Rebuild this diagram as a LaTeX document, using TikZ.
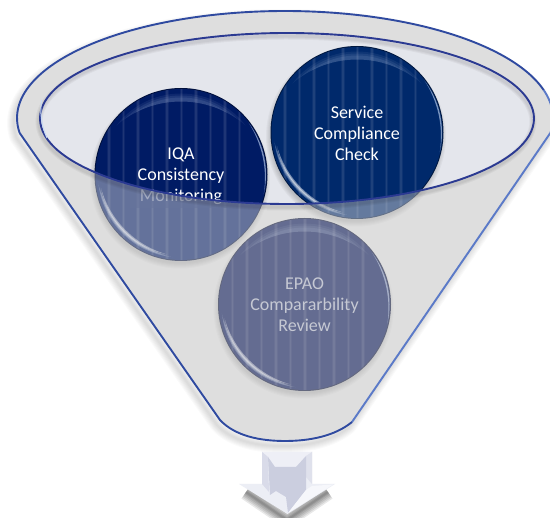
\documentclass[tikz,border=0pt]{standalone}
\usepackage{fontspec}
\setmainfont{Carlito}
\definecolor{bodygrey}{HTML}{DEDEDE}
\definecolor{innerfill}{HTML}{E4E6EC}
\definecolor{linein}{HTML}{2B3A92}
\definecolor{lineleft}{HTML}{2F4AA0}
\definecolor{lineright}{HTML}{5B7AC8}
\definecolor{navya}{HTML}{001B64}
\definecolor{navyb}{HTML}{00296B}
\definecolor{navyc}{HTML}{000F52}
\definecolor{glow}{HTML}{C8DAF5}
\definecolor{washed}{HTML}{66749C}
\definecolor{arface}{HTML}{CBCEDF}
\definecolor{artop}{HTML}{EEEFF6}
\definecolor{arleft}{HTML}{D9DBE9}
\definecolor{arright}{HTML}{DFE1EC}
\definecolor{arheadl}{HTML}{ECEEF5}
\definecolor{arheadr}{HTML}{F6F7FB}
\newcommand{\funnelpath}{plot[domain=188:-8,samples=90,smooth] ({285+268*cos(\x)},{118-107*sin(\x)}) -- (352,422) .. controls (335,436) and (310,441) .. (285,441) .. controls (260,441) and (235,436) .. (220,420) -- cycle}
\newcommand{\innerpath}{(287,118.5) ellipse [x radius=247pt,y radius=85.5pt]}
% crescent: cx cy r dx dy r2 colour opacity  (r2>r gives a tapered sliver)
\newcommand{\crescent}[8]{%
  \begin{scope}
    \clip (#1,#2) circle [radius=#3 pt];
    \fill[#7,opacity=#8,even odd rule] ({#1-130},{#2-130}) rectangle ({#1+130},{#2+130})
      ({#1+#4},{#2+#5}) circle [radius=#6 pt];
  \end{scope}}
\newcommand{\circshadow}[2]{%
  \foreach \k in {1,...,6}{\fill[black,opacity=.03] ({#1-1},{#2+4}) circle [radius={84+\k*1.0 pt}];}}
\newcommand{\gloss}[2]{%
  \begin{scope}
    \clip (#1,#2) circle [radius=85.5pt];
    \foreach \s in {-72,-57.5,...,72}{%
      \draw[white,opacity=.05,line width=3.4pt] ({#1+\s},{#2-90}) -- ({#1+\s},{#2+90});
      \draw[white,opacity=.07,line width=1.5pt] ({#1+\s},{#2-90}) -- ({#1+\s},{#2+90});}
  \end{scope}
  % top band
  \crescent{#1}{#2}{81}{0}{26}{99}{glow}{.07}
  \crescent{#1}{#2}{79}{0}{26}{99}{glow}{.09}
  \crescent{#1}{#2}{77}{0}{26}{99}{glow}{.10}
  % lower left
  \crescent{#1}{#2}{83}{12}{-12}{97}{glow}{.35}
  \crescent{#1}{#2}{82}{12}{-12}{96.5}{white}{.35}
  \crescent{#1}{#2}{81}{12}{-12}{95.5}{white}{.45}
  % right rim
  \crescent{#1}{#2}{85}{-19}{4}{103}{glow}{.6}
}
\tikzset{
  disc/.style={circle,minimum size=172pt,inner sep=0pt,align=center,font=\fontsize{18}{21}\selectfont,text=white},
}
\begin{document}
\begin{tikzpicture}[x=1pt,y=-1pt]
\useasboundingbox (0,0) rectangle (550,518);
\clip (0,0) rectangle (550,518);
\fill[white] (0,0) rectangle (550,518);
% funnel shadow
\begin{scope}[shift={(-3,5)}]
  \foreach \w in {14,12,10,8,6,4,2}{\draw[black,opacity=.018,line width=\w pt,line join=round] \funnelpath;}
\end{scope}
% funnel body and inner ellipse
\fill[bodygrey] \funnelpath;
\fill[innerfill] \innerpath;
% circles
\circshadow{181}{174.5}
\circshadow{357}{132.5}
\circshadow{304.5}{304.5}
\fill[black!40!navya] (181,174.5) circle [radius=86.5pt];
\fill[black!40!navyb] (357,132.5) circle [radius=86.5pt];
\fill[black!40!navyc] (304.5,304.5) circle [radius=86.5pt];
\fill[navya] (181,174.5) circle [radius=85.5pt];
\fill[navyb] (357,132.5) circle [radius=85.5pt];
\fill[navyc] (304.5,304.5) circle [radius=85.5pt];
\gloss{181}{174.5}
\gloss{357}{132.5}
\gloss{304.5}{304.5}
\node[disc] (iqa) at (181,176) {IQA\\Consistency\\Monitoring};
\node[disc] (scc) at (357,133) {Service\\Compliance\\Check};
\node[disc,text=white!70!navyc] (epao) at (304.5,304.5) {EPAO\\Compararbility\\Review};
% wash over everything in the funnel outside the inner ellipse
\fill[bodygrey,opacity=.45,even odd rule] \funnelpath \innerpath;
\begin{scope}[even odd rule]
  \clip (0,0) rectangle (550,518) \innerpath;
  \fill[washed,opacity=.55] (130,180) rectangle (230,208);
\end{scope}
% shadow and outline of the inner ellipse
\begin{scope}[shift={(-1,3)}]
  \foreach \w in {7,5,3}{\draw[black,opacity=.04,line width=\w pt] \innerpath;}
\end{scope}
\draw[linein,line width=1.9pt] \innerpath;
\draw[glow,line width=1pt] (41.5,100) .. controls (40,112) and (41,125) .. (47,138);
% funnel outline
\draw[lineleft,line width=1.9pt,line join=round] plot[domain=188:15,samples=80,smooth] ({285+268*cos(\x)},{118-107*sin(\x)});
\draw[lineright,line width=1.9pt,line join=round] plot[domain=15:-8,samples=20,smooth] ({285+268*cos(\x)},{118-107*sin(\x)}) -- (352,422);
\draw[lineleft,line width=1.9pt,line join=round] (352,422) .. controls (335,436) and (310,441) .. (285,441) .. controls (260,441) and (235,436) .. (220,420) -- (19.6,132.9);
% down arrow shadow
\foreach \w in {16,13,10,7,4,2}{\draw[black,opacity=.09,line width=\w pt,line join=round] (246,492) -- (287,520) -- (328,492);}
% down arrow
\fill[arheadl] (262,452) -- (312,452) -- (312,484) -- (335,484) -- (287.5,514) -- (239,484) -- (262,484) -- cycle;
\fill[artop] (262,452) -- (312,452) -- (306,456) -- (296,467) -- (275,467) -- (268,457) -- cycle;
\fill[arleft] (262,452) -- (268,457) -- (269,492) -- (262,484) -- cycle;
\fill[arright] (312,452) -- (306,456) -- (306,477) -- (312,484) -- cycle;
\fill[arface] (268,457) -- (275,467) -- (296,467) -- (306,456) -- (306,490) -- (288,513) -- (286,497) -- (276,491) -- (270,495) -- cycle;
\fill[arheadr] (306,490) -- (312,486) -- (333,484.5) -- (288,513) -- cycle;
\end{tikzpicture}
\end{document}
